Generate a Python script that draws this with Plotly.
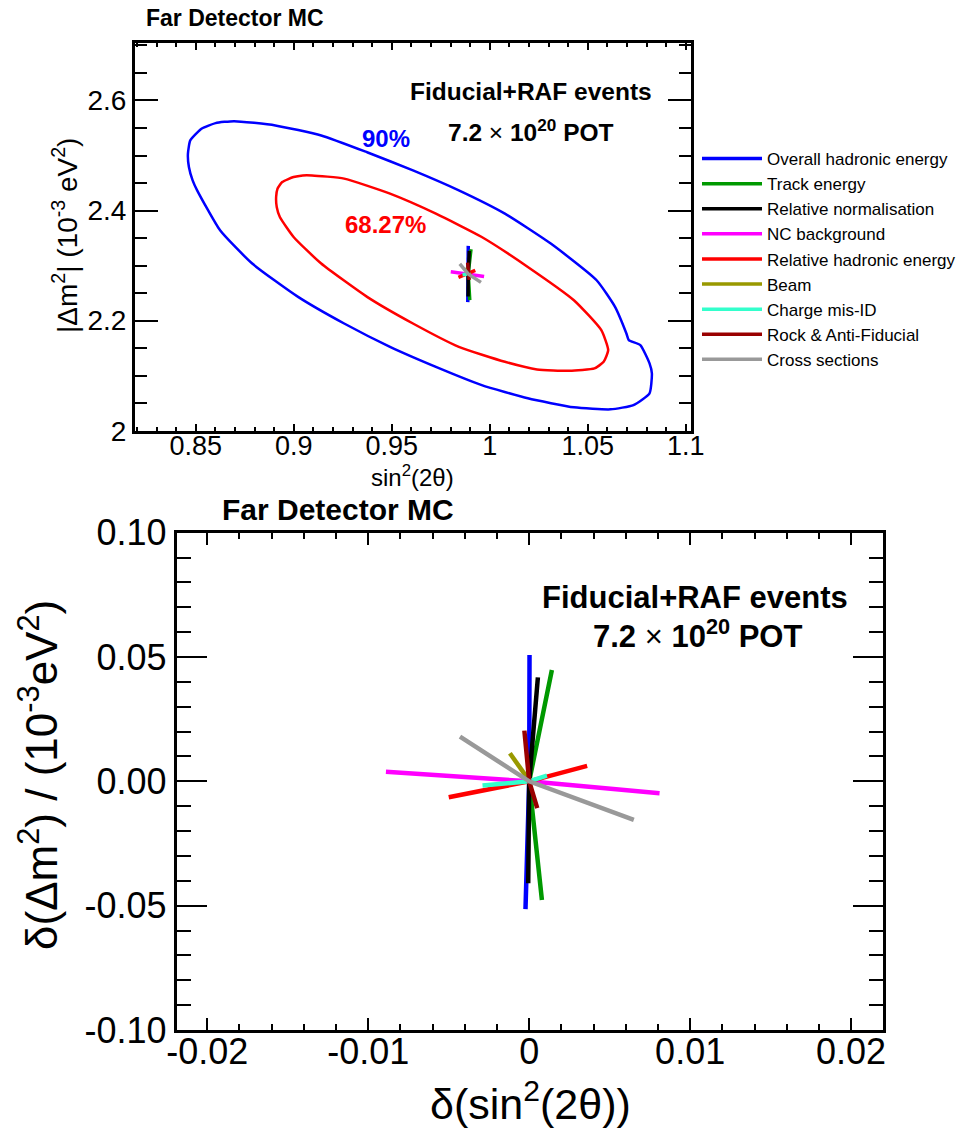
import plotly.graph_objects as go

# ---------------- data ----------------
systematics = ["Overall hadronic energy", "Track energy", "Relative normalisation",
               "NC background", "Relative hadronic energy", "Beam", "Charge mis-ID",
               "Rock & Anti-Fiducial", "Cross sections"]
colors = ["#0000ff", "#009900", "#000000", "#ff00ff", "#ff0000", "#999900",
          "#33ffcc", "#990000", "#999999"]
# shift of best fit for -1 sigma and +1 sigma of each systematic
shift_minus_x = [-0.00023, 0.00079, -0.00006, -0.0089, -0.0050, -0.0012, -0.0029, -0.0003, -0.0043]
shift_minus_y = [-0.0514, -0.0477, -0.0410, 0.0039, -0.0064, 0.0113, -0.0017, 0.0204, 0.0180]
shift_plus_x = [0.00002, 0.00141, 0.00054, 0.0081, 0.0036, 0.0002, 0.0011, 0.0005, 0.0065]
shift_plus_y = [0.0508, 0.0448, 0.0418, -0.0048, 0.0062, -0.0015, 0.0023, -0.0108, -0.0155]

best_fit_sin = 0.989
best_fit_dm2 = 2.285

c90_x = [0.8460, 0.8472, 0.8531, 0.8601, 0.8695, 0.8906, 0.9140, 0.9374, 0.9608, 0.9842,
         1.0077, 1.0311, 1.0545, 1.0639, 1.0697, 1.0709, 1.0768, 1.0815, 1.0827, 1.0815,
         1.0733, 1.0616, 1.0429, 1.0194, 0.9959, 0.9725, 0.9491, 0.9257, 0.9022, 0.8788,
         0.8624, 0.8507, 0.8484, 0.8465, 0.8460]
c90_y = [2.503, 2.5274, 2.549, 2.5589, 2.5625, 2.5547, 2.5365, 2.506, 2.473, 2.4367,
         2.3944, 2.340, 2.2734, 2.225, 2.1767, 2.1646, 2.1555, 2.1223, 2.104, 2.068,
         2.0466, 2.0388, 2.0424, 2.0588, 2.0829, 2.116, 2.1524, 2.1948, 2.2432, 2.3037,
         2.3642, 2.4367, 2.4549, 2.479, 2.503]
c68_x = [0.8910, 0.8917, 0.8941, 0.8999, 0.9046, 0.9093, 0.9257, 0.9491, 0.9725, 0.9959,
         1.0194, 1.0429, 1.0569, 1.0604, 1.0581, 1.0534, 1.0405, 1.0241, 1.0077, 0.9842,
         0.9608, 0.9374, 0.9140, 0.8999, 0.8929, 0.8913, 0.8910]
c68_y = [2.4246, 2.4398, 2.4518, 2.4609, 2.4639, 2.4639, 2.4580, 2.4307, 2.3944, 2.352,
         2.2976, 2.2371, 2.1827, 2.1464, 2.1252, 2.1132, 2.1089, 2.1114, 2.1252, 2.1524,
         2.1948, 2.2432, 2.3037, 2.352, 2.3883, 2.4064, 2.4246]

bottom_x_tickvals = [-0.02, -0.01, 0, 0.01, 0.02]
bottom_x_ticktext = ["-0.02", "-0.01", "0", "0.01", "0.02"]
bottom_y_tickvals = [-0.10, -0.05, 0.0, 0.05, 0.10]
bottom_y_ticktext = ["-0.10", "-0.05", "0.00", "0.05", "0.10"]

# ---------------- layout helpers ----------------
W, H = 973, 1129
FONT = "Liberation Sans, Arial, Helvetica, sans-serif"


def px(x):
    return x / W


def py(y):
    return 1 - y / H


fig = go.Figure()

# contours (top)
fig.add_trace(go.Scatter(x=c90_x, y=c90_y, mode="lines",
                         line=dict(color="#0000ff", width=2.5, shape="spline", smoothing=0.5),
                         showlegend=False, xaxis="x", yaxis="y", hoverinfo="skip"))
fig.add_trace(go.Scatter(x=c68_x, y=c68_y, mode="lines",
                         line=dict(color="#ff0000", width=2.5, shape="spline", smoothing=0.5),
                         showlegend=False, xaxis="x", yaxis="y", hoverinfo="skip"))

for i, name in enumerate(systematics):
    xs = [shift_minus_x[i], 0.0, shift_plus_x[i]]
    ys = [shift_minus_y[i], 0.0, shift_plus_y[i]]
    fig.add_trace(go.Scatter(x=[best_fit_sin + v for v in xs], y=[best_fit_dm2 + v for v in ys],
                             mode="lines", name=name, line=dict(color=colors[i], width=3.5),
                             xaxis="x", yaxis="y", showlegend=True))
    fig.add_trace(go.Scatter(x=xs, y=ys, mode="lines", name=name,
                             line=dict(color=colors[i], width=4.5),
                             xaxis="x2", yaxis="y2", showlegend=False))

frame = dict(showline=True, linewidth=3, linecolor="black", mirror="allticks",
             ticks="inside", tickcolor="black", tickwidth=1.5, showgrid=False,
             zeroline=False, automargin=False)

fig.update_layout(
    width=W, height=H,
    margin=dict(l=0, r=0, t=0, b=0, pad=0),
    paper_bgcolor="white", plot_bgcolor="white",
    font=dict(family=FONT, color="black"),
    xaxis=dict(domain=[px(135), px(690.7)], anchor="y", range=[0.819, 1.1025],
               dtick=0.05, tick0=0.85, ticklen=7, tickfont=dict(size=27), ticklabelstandoff=-11,
               minor=dict(dtick=0.01, tick0=0.85, ticklen=4, ticks="inside", tickcolor="black", tickwidth=1.5),
               **frame),
    yaxis=dict(domain=[py(430.7), py(42.7)], anchor="x", range=[2.0, 2.705],
               dtick=0.2, tick0=2.0, ticklen=23, tickfont=dict(size=28),
               minor=dict(dtick=0.05, tick0=2.0, ticklen=12, ticks="inside", tickcolor="black", tickwidth=1.5),
               **frame),
    xaxis2=dict(domain=[px(176.7), px(883.3)], anchor="y2", range=[-0.0219, 0.0220],
                tickmode="array", tickvals=bottom_x_tickvals, ticktext=bottom_x_ticktext,
                ticklen=12, tickfont=dict(size=36), ticklabelstandoff=-12,
                minor=dict(tickmode="linear", dtick=0.002, tick0=0, ticklen=6, ticks="inside", tickcolor="black", tickwidth=1.5),
                **frame),
    yaxis2=dict(domain=[py(1030), py(532.7)], anchor="x2", range=[-0.1, 0.1],
                tickmode="array", tickvals=bottom_y_tickvals, ticktext=bottom_y_ticktext,
                ticklen=30, tickfont=dict(size=36),
                minor=dict(tickmode="linear", dtick=0.01, tick0=0, ticklen=14, ticks="inside", tickcolor="black", tickwidth=1.5),
                **frame),
    legend=dict(x=px(697), y=py(141), xanchor="left", yanchor="top",
                font=dict(size=17, family=FONT), bgcolor="rgba(0,0,0,0)",
                tracegroupgap=0, itemwidth=60),
)

ann = [
    dict(text="<b>Far Detector MC</b>", x=235, y=18, size=23, color="black"),
    dict(text="<b>Fiducial+RAF events</b>", x=531, y=91, size=24.5, color="black"),
    dict(text="<b>7.2</b> × <b>10<sup>20</sup> POT</b>", x=531, y=130, size=24.5, color="black"),
    dict(text="<b>90%</b>", x=386, y=138, size=24, color="#0000ff"),
    dict(text="<b>68.27%</b>", x=385, y=224, size=24, color="#ff0000"),
    dict(text="sin<sup>2</sup>(2θ)", x=412, y=476, size=24, color="black"),
    dict(text="|Δm<sup>2</sup>| (10<sup>-3</sup> eV<sup>2</sup>)", x=65, y=236, size=28, color="black", angle=-90),
    dict(text="<b>Far Detector MC</b>", x=338, y=510, size=30, color="black"),
    dict(text="<b>Fiducial+RAF events</b>", x=695, y=597, size=31, color="black"),
    dict(text="<b>7.2</b> × <b>10<sup>20</sup> POT</b>", x=697, y=634, size=31, color="black"),
    dict(text="δ(sin<sup>2</sup>(2θ))", x=530, y=1101, size=43, color="black"),
    dict(text="δ(Δm<sup>2</sup>) / (10<sup>-3</sup>eV<sup>2</sup>)", x=38, y=775, size=44, color="black", angle=-90),
]
for a in ann:
    fig.add_annotation(text=a["text"], x=px(a["x"]), y=py(a["y"]), xref="paper", yref="paper",
                       xanchor="center", yanchor="middle", showarrow=False,
                       textangle=a.get("angle", 0),
                       font=dict(size=a["size"], color=a["color"], family=FONT))

fig.write_html("out.html")
